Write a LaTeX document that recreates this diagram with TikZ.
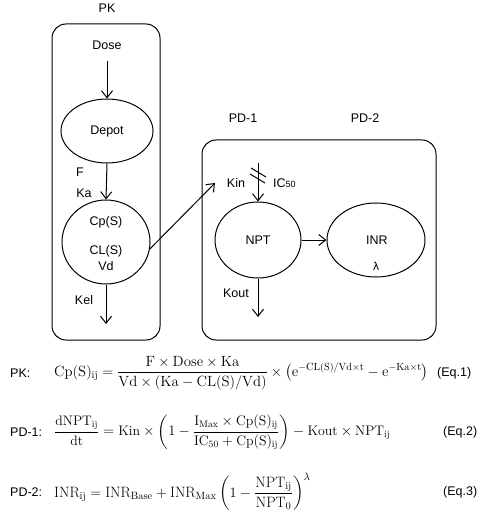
\documentclass[tikz,border=0pt]{standalone}
\usepackage{amsmath}
\usepackage{fontspec}
\newfontfamily\arial{Liberation Sans}
\usetikzlibrary{arrows.meta,shapes.geometric}
\begin{document}
\begin{tikzpicture}[x=1pt,y=-1pt,
  lbl/.style={font=\arial\fontsize{12.5}{14}\selectfont, inner sep=0pt},
  box/.style={draw, line width=1pt, rounded corners=14pt},
  ell/.style={draw, line width=1pt, ellipse, inner sep=0pt},
  arr/.style={line width=1pt, -{Straight Barb[length=7pt,width=11pt]}},
  eq/.style={inner sep=0pt, anchor=west},
  eqlbl/.style={font=\arial\fontsize{12.5}{14}\selectfont, inner sep=0pt, anchor=west}]
\useasboundingbox (0,0) rectangle (483,521);
% PK box
\draw[box] (52,24) rectangle (160,340);
\node[lbl] (pk) at (107,8) {PK};
\node[lbl] (dose) at (107,45) {Dose};
\node[ell, minimum width=92pt, minimum height=64pt] (depot) at (107,131) {};
\node[lbl] at (107,131) {Depot};
\node[ell, minimum width=88pt, minimum height=84pt] (cp) at (106,242) {};
\node[lbl] (cpt) at (106,222) {Cp(S)};
\node[lbl] (clt) at (106,251) {CL(S)};
\node[lbl] (vdt) at (106,266) {Vd};
\node[lbl] (f) at (80,172) {F};
\node[lbl] (ka) at (84,193) {Ka};
\node[lbl] (kel) at (84,300) {Kel};
\coordinate (doseend) at (107,61);
\coordinate (kelend) at (106,324);
\draw[arr] (doseend) -- (depot.north);
\draw[arr] (depot.south) -- (cp.north);
\draw[arr] (cp.south) -- (kelend);
% PD box
\draw[box] (202,140) rectangle (436,340);
\node[lbl] (pd1) at (243,118) {PD-1};
\node[lbl] (pd2) at (365,118) {PD-2};
\node[ell, minimum width=86pt, minimum height=76pt] (npt) at (258,240) {};
\node[lbl] at (258,240) {NPT};
\node[ell, minimum width=98pt, minimum height=74pt] (inr) at (376,240) {};
\node[lbl] at (377,240) {INR};
\node[lbl] (lam) at (376,266) {\fontspec{DejaVu Sans}\fontsize{11}{12}\selectfont λ};
\node[lbl] (kin) at (236,183) {Kin};
\node[lbl, anchor=west] (ic) at (273,183) {IC\fontsize{9}{10}\selectfont 50};
\node[lbl] (kout) at (236,293) {Kout};
\coordinate (kinstart) at (258,163);
\coordinate (koutend) at (258,317);
\coordinate (pdin) at (215,183);
\draw[arr] (kinstart) -- (npt.north);
\draw[line width=1pt] (251,168) -- (266,177);
\draw[line width=1pt] (250,174) -- (265,183);
\draw[arr] (npt.south) -- (koutend);
\draw[arr] (npt.east) -- (inr.west);
\draw[arr] (cp.-9) -- (pdin);
% equations
\node[eqlbl] (l1) at (10,373) {PK:};
\node[eq, font=\fontsize{14.8}{18}\selectfont] (e1) at (54,373) {$\mathrm{Cp(S)_{ij}} = \dfrac{\mathrm{F\times Dose\times Ka}}{\mathrm{Vd\times(Ka-CL(S)/Vd)}}\times\left(\mathrm{e}^{-\mathrm{CL(S)/Vd\times t}}-\mathrm{e}^{-\mathrm{Ka\times t}}\right)$};
\node[eqlbl] (q1) at (437,373) {(Eq.1)};
\node[eqlbl] (l2) at (10,432) {PD-1:};
\node[eq, font=\fontsize{13.8}{17}\selectfont] (e2) at (54,432) {$\dfrac{\mathrm{dNPT_{ij}}}{\mathrm{dt}} = \mathrm{Kin}\times\left(1-\dfrac{\mathrm{I_{Max}\times Cp(S)_{ij}}}{\mathrm{IC_{50}+Cp(S)_{ij}}}\right)-\mathrm{Kout}\times\mathrm{NPT_{ij}}$};
\node[eqlbl] (q2) at (443,432) {(Eq.2)};
\node[eqlbl] (l3) at (10,492) {PD-2:};
\node[eq, font=\fontsize{15}{18}\selectfont] (e3) at (54,492) {$\mathrm{INR_{ij}} = \mathrm{INR_{Base}}+\mathrm{INR_{Max}}\left(1-\dfrac{\mathrm{NPT_{ij}}}{\mathrm{NPT_0}}\right)^{\lambda}$};
\node[eqlbl] (q3) at (443,492) {(Eq.3)};
\end{tikzpicture}
\end{document}
